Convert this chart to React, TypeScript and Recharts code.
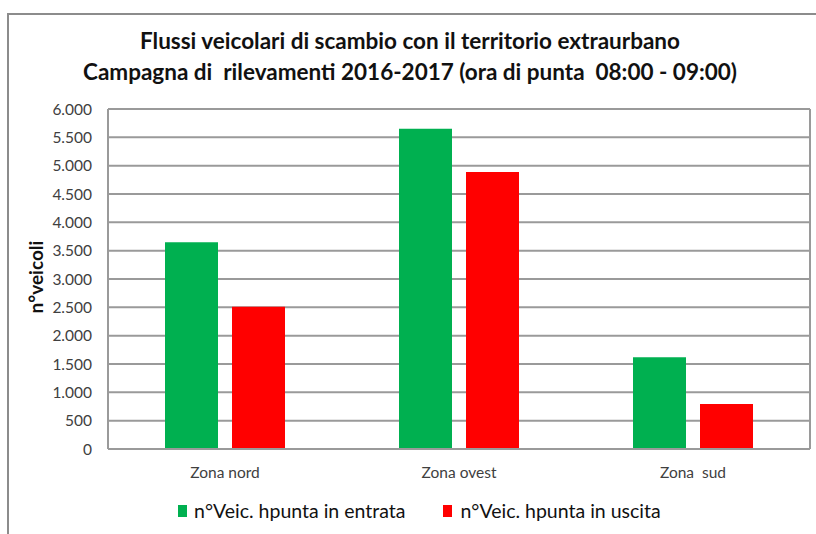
import React from "react";
import { BarChart, Bar, XAxis, YAxis, CartesianGrid } from "recharts";

const zones = ["Zona nord", "Zona ovest", "Zona\u00a0 sud"];
const entrata = [3650, 5650, 1620];
const uscita = [2510, 4890, 795];
const yTicks = [0, 500, 1000, 1500, 2000, 2500, 3000, 3500, 4000, 4500, 5000, 5500, 6000];

const seriesNames = ["n°Veic. hpunta in entrata", "n°Veic. hpunta in uscita"];
const titleLines = [
  "Flussi veicolari di scambio con il territorio extraurbano",
  "Campagna di  rilevamenti 2016-2017 (ora di punta  08:00 - 09:00)",
];

const data = zones.map((z, i) => ({ zone: z, entrata: entrata[i], uscita: uscita[i] }));

const GREEN = "#00b050";
const RED = "#ff0000";
const GRID = "#9a9a9a";
const FONT = "Lato, 'Open Sans', sans-serif";

const fmt = (v: number) => v.toLocaleString("de-DE");

export default function App() {
  return (
    <div style={{ position: "absolute", left: 0, top: 0, width: 816, height: 534, background: "#fff", overflow: "hidden", fontFamily: FONT }}>
      {/* outer frame */}
      <div style={{ position: "absolute", left: 7, top: 13, width: 900, height: 600, borderTop: "2px solid #8c8c8c", borderLeft: "2px solid #8c8c8c" }} />

      <div style={{ position: "absolute", left: 0, top: 25, width: 820, textAlign: "center", fontWeight: 700, fontSize: 22.5, lineHeight: "31px", color: "#111" }}>
        <div>{titleLines[0]}</div>
        <div style={{ whiteSpace: "pre" }}>{titleLines[1]}</div>
      </div>

      <div style={{ position: "absolute", left: 0, top: 0 }}>
        <BarChart width={816} height={534} data={data} margin={{ top: 109, right: 6, bottom: 55, left: 8 }} barCategoryGap={57} barGap={14}>
          <CartesianGrid
            stroke={GRID}
            strokeWidth={2}
            verticalCoordinatesGenerator={({ offset }: any) => [offset.left, offset.left + offset.width]}
          />
          <XAxis
            dataKey="zone"
            axisLine={{ stroke: GRID, strokeWidth: 2 }}
            tickLine={false}
            tickMargin={12}
            tick={{ fill: "#404040", fontSize: 15.5, fontFamily: FONT }}
          />
          <YAxis
            width={100}
            domain={[0, 6000]}
            ticks={yTicks}
            interval={0}
            axisLine={{ stroke: GRID, strokeWidth: 2 }}
            tickLine={false}
            tickMargin={10}
            tickFormatter={fmt}
            tick={{ fill: "#404040", fontSize: 15.5, fontFamily: FONT }}
            label={{
              content: (props: any) => {
                const vb = props.viewBox || { x: 8, y: 109, width: 100, height: 340 };
                const cx = vb.x + 27;
                const cy = vb.y + vb.height / 2 - 2;
                return (
                  <text x={cx} y={cy} transform={`rotate(-90 ${cx} ${cy})`} textAnchor="middle" dominantBaseline="central" fontWeight={700} fontSize={19} fill="#111" fontFamily={FONT}>
                    n°veicoli
                  </text>
                );
              },
            }}
          />
          <Bar dataKey="entrata" name={seriesNames[0]} fill={GREEN} isAnimationActive={false} />
          <Bar dataKey="uscita" name={seriesNames[1]} fill={RED} isAnimationActive={false} />
        </BarChart>
      </div>

      {/* legend */}
      <div style={{ position: "absolute", left: 178, top: 499, display: "flex", alignItems: "center", fontSize: 19.5, color: "#111", whiteSpace: "nowrap" }}>
        <span style={{ width: 9, height: 12, background: GREEN, display: "inline-block", marginRight: 7 }} />
        <span>{seriesNames[0]}</span>
        <span style={{ width: 9, height: 12, background: RED, display: "inline-block", marginLeft: 38, marginRight: 8 }} />
        <span>{seriesNames[1]}</span>
      </div>
    </div>
  );
}
